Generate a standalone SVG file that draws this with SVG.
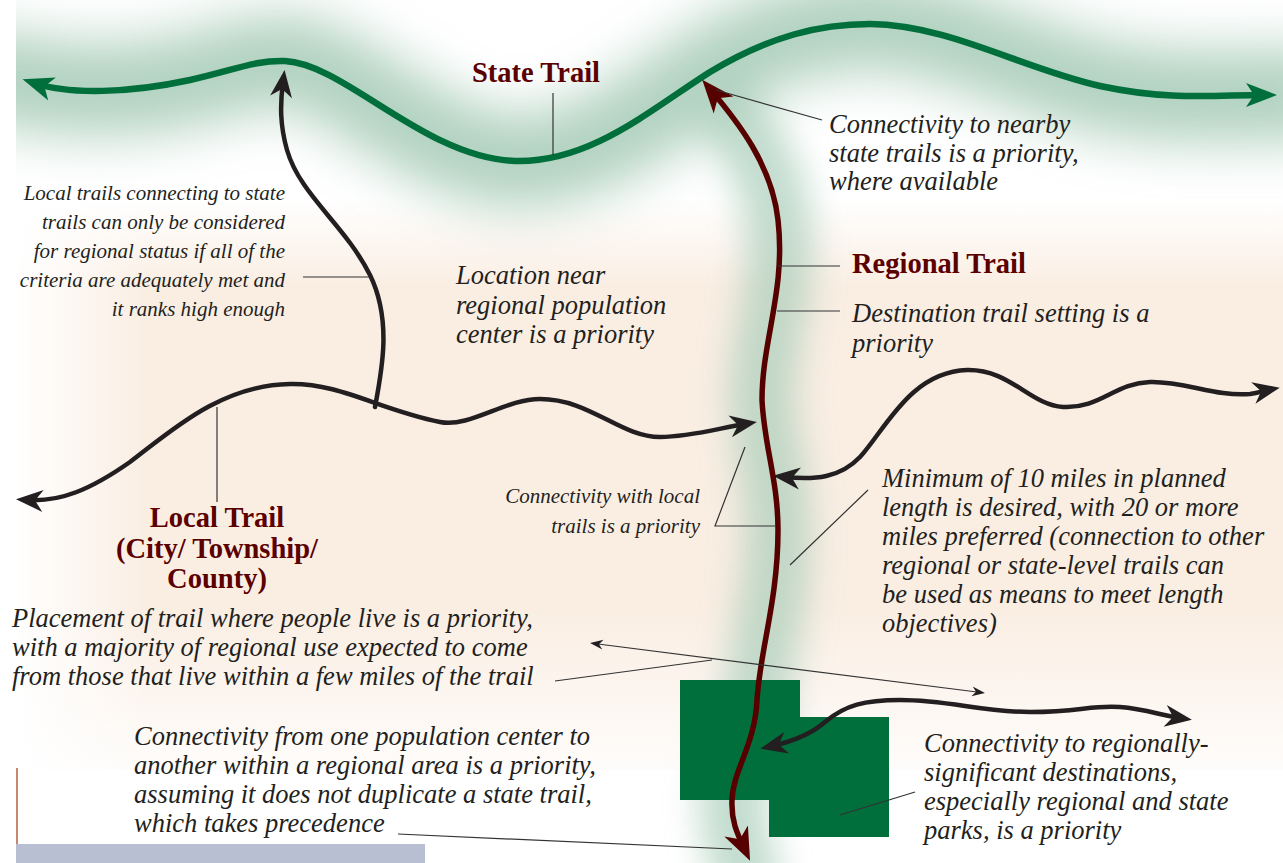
<svg xmlns="http://www.w3.org/2000/svg" width="1283" height="863" viewBox="0 0 1283 863">
<style>
.it{font-family:"Liberation Serif","Times New Roman",serif;font-style:italic;font-size:26.5px;fill:#231f20}
.sm{font-size:21px}
.lbl{font-family:"Liberation Serif","Times New Roman",serif;font-weight:bold;font-size:28.5px;fill:#5a0000}
.lead{fill:none;stroke:#333;stroke-width:1.2}
.blk{fill:none;stroke:#231f20;stroke-width:4.5;stroke-linecap:round}
</style>
<defs>
<linearGradient id="peachV" x1="0" y1="0" x2="0" y2="1">
<stop offset="0" stop-color="#faeee3" stop-opacity="0"/>
<stop offset="0.15" stop-color="#faeee3" stop-opacity="1"/>
<stop offset="0.72" stop-color="#faeee3" stop-opacity="1"/>
<stop offset="1" stop-color="#faeee3" stop-opacity="0.15"/>
</linearGradient>
<linearGradient id="fadeL" x1="0" y1="0" x2="1" y2="0">
<stop offset="0" stop-color="#fff" stop-opacity="1"/>
<stop offset="1" stop-color="#fff" stop-opacity="0"/>
</linearGradient>
<filter id="haze" filterUnits="userSpaceOnUse" x="-100" y="-150" width="1500" height="1200">
<feGaussianBlur stdDeviation="26"/>
</filter>
<filter id="haze2" filterUnits="userSpaceOnUse" x="-100" y="-150" width="1500" height="1200">
<feGaussianBlur stdDeviation="17"/>
</filter>
<clipPath id="pic"><rect x="16" y="0" width="1267" height="863"/></clipPath>
<marker id="agreen" viewBox="-32 -13 34 26" refX="-12" refY="0" markerWidth="34" markerHeight="26" markerUnits="userSpaceOnUse" orient="auto-start-reverse">
<path d="M0,0 L-31,-12 L-23,0 L-31,12 Z" fill="#006f3c"/>
</marker>
<marker id="ared" viewBox="-34 -14 36 28" refX="-12" refY="0" markerWidth="36" markerHeight="28" markerUnits="userSpaceOnUse" orient="auto-start-reverse">
<path d="M0,0 L-33,-13 L-24,0 L-33,13 Z" fill="#560000"/>
</marker>
<marker id="ablk" viewBox="-28 -12 30 24" refX="-12" refY="0" markerWidth="30" markerHeight="24" markerUnits="userSpaceOnUse" orient="auto-start-reverse">
<path d="M0,0 L-27,-11 L-19,0 L-27,11 Z" fill="#231f20"/>
</marker>
<marker id="athin" viewBox="-14 -6 15 12" refX="-4" refY="0" markerWidth="15" markerHeight="12" markerUnits="userSpaceOnUse" orient="auto-start-reverse">
<path d="M0,0 L-13,-5 L-9,0 L-13,5 Z" fill="#231f20"/>
</marker>
</defs>
<rect width="1283" height="863" fill="#fff"/>
<g id="background" clip-path="url(#pic)">
<rect x="16" y="200" width="1267" height="570" fill="url(#peachV)"/>
<rect x="16" y="150" width="130" height="650" fill="url(#fadeL)"/>
<path d="M-40,70 C60,95 130,93 190,80 C235,70 255,60 285,61 C345,64 425,158 515,161 C590,163 650,110 710,72 C770,36 820,24 870,24 C950,25 1020,68 1100,86 C1170,101 1215,95 1330,95" fill="none" stroke="#9ec6b0" stroke-width="92" filter="url(#haze)" opacity="0.8"/>
<path d="M710,89 C738,122 772,165 778,220 C786,290 762,340 762,400 C764,445 778,480 778,530 C778,600 760,650 757,700 C755,745 733,770 732,800 C731,822 738,835 750,900" fill="none" stroke="#a9cdba" stroke-width="66" filter="url(#haze2)" opacity="0.7"/>
</g>
<g id="parks">
<rect x="680" y="680" width="120" height="120" fill="#006f3c"/>
<rect x="769" y="717" width="120" height="120" fill="#006f3c"/>
</g>
<g id="connectors">
<path id="state-trail" d="M34,83 C70,95 130,93 190,80 C235,70 255,60 285,61 C345,64 425,158 515,161 C590,163 650,110 710,72 C770,36 820,24 870,24 C950,25 1020,68 1100,86 C1170,101 1215,95 1265,95" fill="none" stroke="#006f3c" stroke-width="6.5" marker-start="url(#agreen)" marker-end="url(#agreen)"/>
<path id="local-trail" class="blk" d="M28,500 C60,502 90,490 130,462 C170,432 220,385 290,384 C340,383 380,410 440,422 C470,428 505,399 540,399 C590,399 620,437 660,437 C690,437 720,428 745,424" marker-start="url(#ablk)" marker-end="url(#ablk)"/>
<path id="local-branch" class="blk" d="M375,407 C382,370 392,320 370,275 C345,225 300,195 287,150 C280,125 280,105 283,82" marker-end="url(#ablk)"/>
<path id="local-right" class="blk" d="M785,477 C815,480 840,478 860,457 C885,430 910,372 967,370 C1010,369 1030,405 1063,407 C1100,409 1115,383 1150,382 C1185,381 1215,397 1250,394 C1258,393 1263,391 1268,390" marker-start="url(#ablk)" marker-end="url(#ablk)"/>
<path id="local-bottom" class="blk" d="M772,746 C790,742 810,735 825,722 C845,705 865,700 900,700 C950,700 980,712 1030,712 C1080,712 1090,705 1120,707 C1145,709 1160,715 1180,718" marker-start="url(#ablk)" marker-end="url(#ablk)"/>
<path id="regional-trail" d="M710,89 C738,122 772,165 778,220 C786,290 762,340 762,400 C764,445 778,480 778,530 C778,600 760,650 757,700 C755,745 733,770 732,800 C731,822 738,835 745,850" fill="none" stroke="#560000" stroke-width="5.5" marker-start="url(#ared)" marker-end="url(#ared)"/>
<path class="lead" d="M553,93 L553,155"/>
<path class="lead" d="M716,90 L822,120"/>
<path class="lead" d="M778,266 L840,266"/>
<path class="lead" d="M777,311 L840,311"/>
<path class="lead" d="M303,277 L370,277"/>
<path class="lead" d="M217,407 L217,502"/>
<path class="lead" d="M745,447 L715,526 L775,526"/>
<path class="lead" d="M868,490 L790,565"/>
<path class="lead" d="M555,681 L712,660"/>
<path class="lead" d="M594,643.5 L981,692.5" marker-start="url(#athin)" marker-end="url(#athin)"/>
<path class="lead" d="M915,792 L840,815"/>
<path class="lead" d="M398,834 L732,849"/>
</g>
<g id="label-state">
<text class="lbl" x="472" y="82">State Trail</text>
</g>
<g id="label-regional">
<text class="lbl" x="852" y="273">Regional Trail</text>
</g>
<g id="label-local">
<text class="lbl" text-anchor="middle" x="217" y="527">Local Trail</text>
<text class="lbl" text-anchor="middle" x="217" y="558">(City/ Township/</text>
<text class="lbl" text-anchor="middle" x="217" y="588">County)</text>
</g>
<g id="note-nearby">
<text class="it" x="829" y="133">Connectivity to nearby</text>
<text class="it" x="829" y="162">state trails is a priority,</text>
<text class="it" x="829" y="190">where available</text>
</g>
<g id="note-local-state">
<text class="it sm" text-anchor="end" x="285" y="200">Local trails connecting to state</text>
<text class="it sm" text-anchor="end" x="285" y="229">trails can only be considered</text>
<text class="it sm" text-anchor="end" x="285" y="258">for regional status if all of the</text>
<text class="it sm" text-anchor="end" x="285" y="287">criteria are adequately met and</text>
<text class="it sm" text-anchor="end" x="285" y="316">it ranks high enough</text>
</g>
<g id="note-location">
<text class="it" x="456" y="284">Location near</text>
<text class="it" x="456" y="314">regional population</text>
<text class="it" x="456" y="343">center is a priority</text>
</g>
<g id="note-destination">
<text class="it" x="852" y="322">Destination trail setting is a</text>
<text class="it" x="852" y="352">priority</text>
</g>
<g id="note-connect-local">
<text class="it sm" text-anchor="end" x="700" y="503">Connectivity with local</text>
<text class="it sm" text-anchor="end" x="700" y="533">trails is a priority</text>
</g>
<g id="note-minimum">
<text class="it" x="882" y="487">Minimum of 10 miles in planned</text>
<text class="it" x="882" y="516">length is desired, with 20 or more</text>
<text class="it" x="882" y="545">miles preferred (connection to other</text>
<text class="it" x="882" y="574">regional or state-level trails can</text>
<text class="it" x="882" y="603">be used as means to meet length</text>
<text class="it" x="882" y="632">objectives)</text>
</g>
<g id="note-placement">
<text class="it" x="12" y="627">Placement of trail where people live is a priority,</text>
<text class="it" x="12" y="656">with a majority of regional use expected to come</text>
<text class="it" x="12" y="685">from those that live within a few miles of the trail</text>
</g>
<g id="note-population">
<text class="it" x="134" y="745">Connectivity from one population center to</text>
<text class="it" x="134" y="774">another within a regional area is a priority,</text>
<text class="it" x="134" y="803">assuming it does not duplicate a state trail,</text>
<text class="it" x="134" y="832">which takes precedence</text>
</g>
<g id="note-destinations">
<text class="it" x="924" y="752">Connectivity to regionally-</text>
<text class="it" x="924" y="781">significant destinations,</text>
<text class="it" x="924" y="810">especially regional and state</text>
<text class="it" x="924" y="839">parks, is a priority</text>
</g>
<g id="footer">
<line x1="17" y1="768" x2="17" y2="844" stroke="#c8866a" stroke-width="2"/>
<rect x="16" y="844" width="409" height="19" fill="#b8bfd3"/>
</g>
</svg>
